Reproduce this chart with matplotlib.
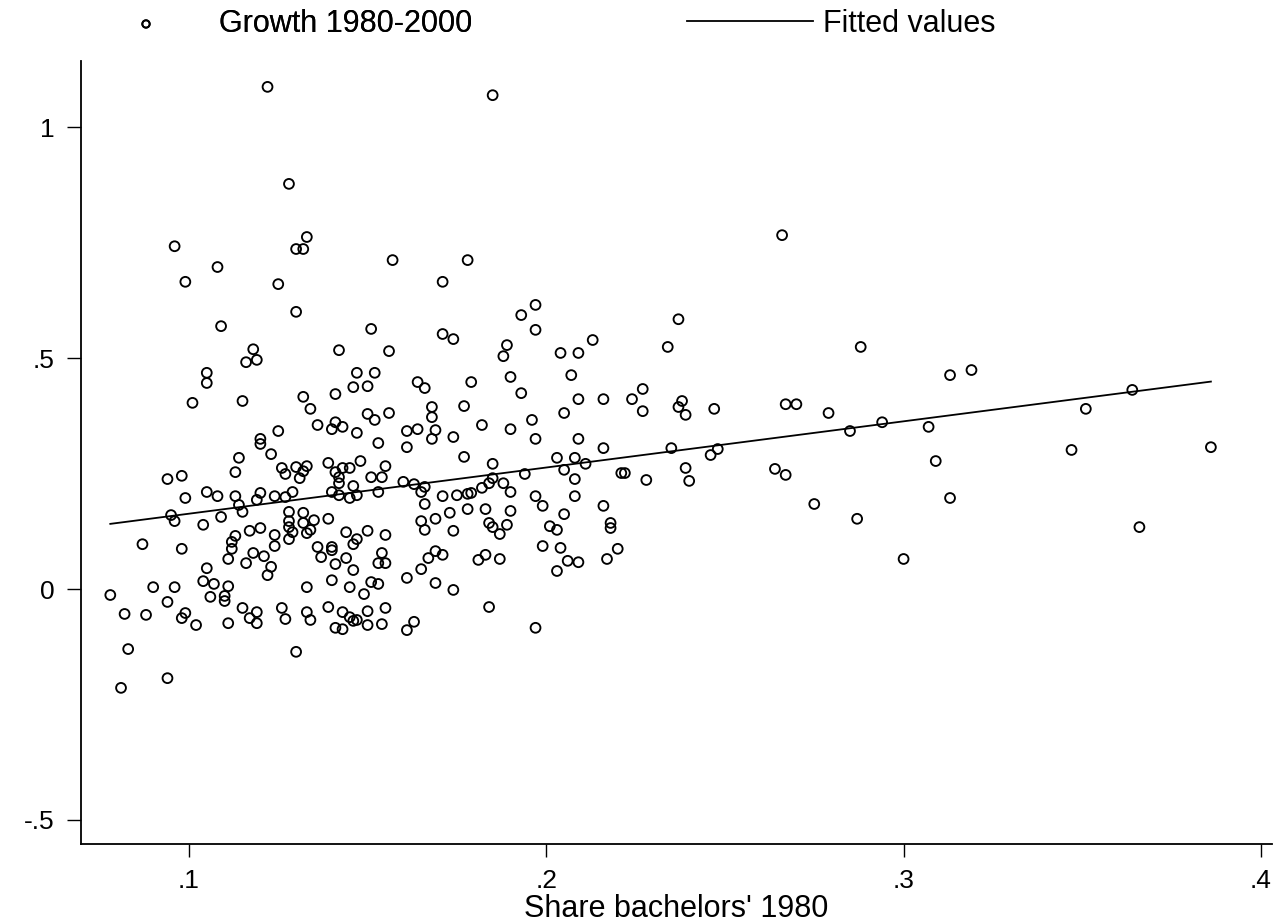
import matplotlib
matplotlib.use("Agg")
import matplotlib.pyplot as plt

plt.rcParams['font.family'] = ['Liberation Sans', 'DejaVu Sans']

# Share of bachelors in 1980 (x) and growth 1980-2000 (y)
share_bachelors_1980 = [
    0.122, 0.185, 0.128, 0.096, 0.133, 0.130, 0.132, 0.157, 0.178, 0.108,
    0.099, 0.125, 0.171, 0.130, 0.197, 0.193, 0.197, 0.109, 0.151, 0.171,
    0.174, 0.213, 0.189, 0.188, 0.118, 0.119, 0.142, 0.156, 0.204, 0.209,
    0.116, 0.266, 0.237, 0.234, 0.288, 0.105, 0.105, 0.101, 0.115, 0.114,
    0.113, 0.094, 0.098, 0.099, 0.105, 0.108, 0.113, 0.114, 0.115, 0.120,
    0.119, 0.095, 0.096, 0.104, 0.109, 0.087, 0.098, 0.113, 0.112, 0.112,
    0.117, 0.120, 0.111, 0.118, 0.116, 0.105, 0.104, 0.107, 0.111, 0.090,
    0.096, 0.078, 0.094, 0.106, 0.110, 0.110, 0.082, 0.088, 0.099, 0.098,
    0.102, 0.111, 0.115, 0.119, 0.117, 0.119, 0.083, 0.094, 0.081, 0.147,
    0.152, 0.146, 0.150, 0.141, 0.132, 0.134, 0.164, 0.166, 0.168, 0.168,
    0.150, 0.152, 0.156, 0.136, 0.141, 0.140, 0.143, 0.147, 0.125, 0.120,
    0.120, 0.123, 0.153, 0.161, 0.164, 0.161, 0.139, 0.148, 0.126, 0.127,
    0.130, 0.133, 0.132, 0.131, 0.141, 0.143, 0.145, 0.142, 0.142, 0.155,
    0.154, 0.151, 0.146, 0.160, 0.163, 0.166, 0.124, 0.129, 0.140, 0.142,
    0.147, 0.153, 0.165, 0.127, 0.145, 0.166, 0.128, 0.132, 0.128, 0.132,
    0.135, 0.139, 0.128, 0.129, 0.133, 0.134, 0.128, 0.124, 0.124, 0.144,
    0.150, 0.155, 0.147, 0.146, 0.165, 0.166, 0.136, 0.137, 0.140, 0.140,
    0.144, 0.141, 0.154, 0.153, 0.155, 0.121, 0.123, 0.122, 0.146, 0.167,
    0.165, 0.161, 0.133, 0.140, 0.145, 0.149, 0.151, 0.153, 0.126, 0.127,
    0.133, 0.134, 0.139, 0.143, 0.145, 0.146, 0.147, 0.150, 0.155, 0.141,
    0.143, 0.150, 0.154, 0.163, 0.161, 0.130, 0.179, 0.190, 0.207, 0.193,
    0.209, 0.216, 0.177, 0.205, 0.182, 0.190, 0.196, 0.169, 0.168, 0.174,
    0.197, 0.209, 0.216, 0.177, 0.185, 0.203, 0.208, 0.211, 0.205, 0.194,
    0.185, 0.184, 0.182, 0.188, 0.190, 0.208, 0.221, 0.171, 0.175, 0.178,
    0.179, 0.197, 0.208, 0.199, 0.216, 0.218, 0.218, 0.220, 0.173, 0.178,
    0.183, 0.190, 0.169, 0.184, 0.185, 0.189, 0.187, 0.174, 0.205, 0.201,
    0.203, 0.199, 0.204, 0.206, 0.209, 0.203, 0.217, 0.169, 0.171, 0.181,
    0.183, 0.187, 0.169, 0.174, 0.184, 0.197, 0.224, 0.227, 0.227, 0.238,
    0.237, 0.239, 0.247, 0.267, 0.270, 0.279, 0.285, 0.294, 0.235, 0.248,
    0.246, 0.222, 0.228, 0.239, 0.240, 0.264, 0.267, 0.275, 0.287, 0.313,
    0.319, 0.307, 0.309, 0.313, 0.300, 0.351, 0.347, 0.364, 0.386, 0.366,
]
growth_1980_2000 = [
    1.087, 1.069, 0.877, 0.742, 0.762, 0.736, 0.736, 0.712, 0.712, 0.697,
    0.665, 0.660, 0.665, 0.600, 0.615, 0.593, 0.561, 0.569, 0.563, 0.552,
    0.541, 0.539, 0.528, 0.504, 0.519, 0.496, 0.517, 0.515, 0.511, 0.511,
    0.491, 0.766, 0.584, 0.524, 0.524, 0.468, 0.446, 0.403, 0.407, 0.284,
    0.253, 0.238, 0.245, 0.197, 0.210, 0.201, 0.201, 0.182, 0.167, 0.208,
    0.193, 0.160, 0.147, 0.139, 0.156, 0.097, 0.087, 0.115, 0.102, 0.087,
    0.126, 0.132, 0.065, 0.078, 0.056, 0.045, 0.017, 0.011, 0.006, 0.004,
    0.004, -0.013, -0.028, -0.017, -0.015, -0.026, -0.054, -0.056, -0.052, -0.063,
    -0.078, -0.074, -0.041, -0.050, -0.063, -0.074, -0.130, -0.193, -0.214, 0.468,
    0.468, 0.437, 0.439, 0.422, 0.416, 0.390, 0.448, 0.435, 0.394, 0.372,
    0.379, 0.366, 0.381, 0.355, 0.361, 0.346, 0.351, 0.338, 0.342, 0.325,
    0.314, 0.292, 0.316, 0.342, 0.346, 0.307, 0.273, 0.277, 0.262, 0.249,
    0.264, 0.266, 0.255, 0.240, 0.253, 0.262, 0.262, 0.242, 0.229, 0.266,
    0.242, 0.242, 0.223, 0.232, 0.227, 0.221, 0.201, 0.210, 0.210, 0.203,
    0.203, 0.210, 0.210, 0.199, 0.197, 0.184, 0.167, 0.165, 0.147, 0.143,
    0.149, 0.152, 0.134, 0.123, 0.121, 0.128, 0.108, 0.117, 0.093, 0.123,
    0.126, 0.117, 0.108, 0.097, 0.147, 0.128, 0.091, 0.069, 0.091, 0.084,
    0.067, 0.054, 0.078, 0.056, 0.056, 0.071, 0.048, 0.030, 0.041, 0.067,
    0.043, 0.024, 0.004, 0.019, 0.004, -0.011, 0.015, 0.011, -0.041, -0.065,
    -0.050, -0.067, -0.039, -0.050, -0.061, -0.069, -0.067, -0.048, -0.041, -0.084,
    -0.087, -0.078, -0.076, -0.071, -0.089, -0.136, 0.448, 0.459, 0.463, 0.424,
    0.411, 0.411, 0.396, 0.381, 0.355, 0.346, 0.366, 0.344, 0.325, 0.329,
    0.325, 0.325, 0.305, 0.286, 0.271, 0.284, 0.284, 0.271, 0.258, 0.249,
    0.240, 0.229, 0.219, 0.229, 0.210, 0.238, 0.251, 0.201, 0.203, 0.206,
    0.208, 0.201, 0.201, 0.180, 0.180, 0.143, 0.132, 0.087, 0.165, 0.173,
    0.173, 0.169, 0.152, 0.143, 0.134, 0.139, 0.119, 0.126, 0.162, 0.136,
    0.128, 0.093, 0.089, 0.061, 0.058, 0.039, 0.065, 0.082, 0.074, 0.063,
    0.074, 0.065, 0.013, -0.002, -0.039, -0.084, 0.411, 0.433, 0.385, 0.407,
    0.394, 0.377, 0.390, 0.400, 0.400, 0.381, 0.342, 0.361, 0.305, 0.303,
    0.290, 0.251, 0.236, 0.262, 0.234, 0.260, 0.247, 0.184, 0.152, 0.463,
    0.474, 0.351, 0.277, 0.197, 0.065, 0.390, 0.301, 0.431, 0.307, 0.134,
]

# Fitted values (end points of the regression line)
fit_x = [0.078, 0.386]
fit_y = [0.141, 0.449]

x_ticks = [0.1, 0.2, 0.3, 0.4]
x_tick_labels = ['.1', '.2', '.3', '.4']
y_ticks = [-0.5, 0.0, 0.5, 1.0]
y_tick_labels = ['-.5', '0', '.5', '1']

W, H = 1274, 923
fig = plt.figure(figsize=(W / 100, H / 100), dpi=100)
ax = fig.add_axes([81 / W, (H - 844) / H, (1272 - 81) / W, (844 - 61) / H])

sc = ax.scatter(share_bachelors_1980, growth_1980_2000, s=50,
                facecolors='none', edgecolors='black', linewidths=1.35,
                label='Growth 1980-2000', zorder=3)
ln, = ax.plot(fit_x, fit_y, color='black', linewidth=1.3,
              label='Fitted values', zorder=2)

ax.set_xlim(0.0698, 0.4031)
ax.set_ylim(-0.552, 1.143)

ax.set_xticks(x_ticks)
ax.set_xticklabels(x_tick_labels)
ax.set_yticks(y_ticks)
ax.set_yticklabels(y_tick_labels)

for s in ['top', 'right']:
    ax.spines[s].set_visible(False)
for s in ['left', 'bottom']:
    ax.spines[s].set_linewidth(1.3)
    ax.spines[s].set_color('black')

ax.tick_params(axis='x', direction='out', length=9, width=1.0,
               labelsize=19, pad=9, colors='black')
ax.tick_params(axis='y', direction='out', length=10, width=1.0,
               labelsize=19, pad=9, colors='black')

ax.set_xlabel("Share bachelors' 1980", fontsize=22, labelpad=1)

fs = 22
fpx = fs * 100 / 72
leg1 = fig.legend(handles=[sc], labels=['Growth 1980-2000'], loc='center left',
                  bbox_to_anchor=(83 / W, (H - 24) / H), frameon=False,
                  fontsize=fs, handlelength=126 / fpx, handletextpad=10 / fpx,
                  borderpad=0, borderaxespad=0, markerscale=0.75)
leg2 = fig.legend(handles=[ln], labels=['Fitted values'], loc='center left',
                  bbox_to_anchor=(687 / W, (H - 24) / H), frameon=False,
                  fontsize=fs, handlelength=126 / fpx, handletextpad=10 / fpx,
                  borderpad=0, borderaxespad=0)
fig.add_artist(leg1)

fig.savefig('out.png', dpi=100, facecolor='white')
